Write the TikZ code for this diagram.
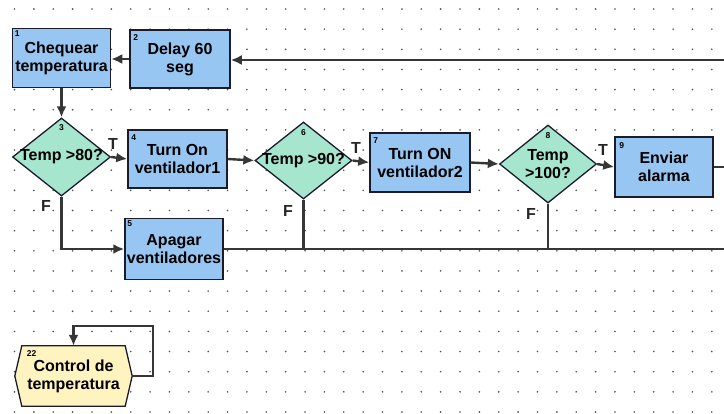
\documentclass[tikz,border=0pt]{standalone}
\usepackage{fontspec}
\setmainfont{Liberation Sans}
\usetikzlibrary{arrows.meta,shapes.geometric,backgrounds}
\definecolor{boxc}{HTML}{98C6F2}
\definecolor{diac}{HTML}{A6E6CE}
\definecolor{hexc}{HTML}{FFF3C0}
\definecolor{linec}{HTML}{363636}
\definecolor{edgec}{HTML}{1A1C2C}
\definecolor{dotc}{HTML}{505050}
\begin{document}
\begin{tikzpicture}[x=1pt,y=-1pt,
  stepbox/.style={rectangle,draw=edgec,line width=1.5pt,fill=boxc,inner sep=0pt,align=center,
    font=\bfseries\fontsize{16}{18}\selectfont},
  decision/.style={diamond,aspect=1.24,draw=edgec,line width=1.3pt,fill=diac,inner sep=0pt,align=center,
    font=\bfseries\fontsize{16}{18}\selectfont},
  hexnode/.style={rectangle,draw=none,inner sep=0pt,align=center,minimum width=117pt,minimum height=60pt,
    font=\bfseries\fontsize{16}{18}\selectfont},
  hexdraw/.style={draw=edgec,line width=1.3pt,fill=hexc},
  numlbl/.style={inner sep=0pt,font=\bfseries\fontsize{8.5}{8.5}\selectfont,text=black},
  tflbl/.style={inner sep=0pt,font=\bfseries\fontsize{16}{16}\selectfont,text=black!85},
  arr/.style={draw=linec,line width=2.4pt,-{Latex[length=11pt,width=10pt]}},
  conn/.style={draw=linec,line width=2.4pt}
]
\useasboundingbox (0,0) rectangle (724,413);
% dot grid
\begin{scope}[on background layer]
\fill[white] (0,0) rectangle (724,413);
\foreach \i in {0,...,36}{
  \foreach \j in {0,...,20}{
    \fill[dotc] ({14.5+19.37*\i},{9+20.15*\j}) circle (0.9pt);
  }
}
\end{scope}

% nodes
\node[stepbox,minimum width=98pt,minimum height=59pt] (b1) at (61.5,58) {Chequear\\temperatura};
\node[stepbox,minimum width=100pt,minimum height=58pt] (b2) at (180,59) {Delay 60\\seg};
\node[decision,minimum width=98pt,minimum height=78pt] (d3) at (61.5,157) {\makebox[0pt]{Temp >80?}};
\node[stepbox,minimum width=99pt,minimum height=58pt] (b4) at (177.5,159) {Turn On\\ventilador1};
\node[stepbox,minimum width=98pt,minimum height=61pt] (b5) at (174,249) {Apagar\\ventiladores};
\node[decision,minimum width=97pt,minimum height=77pt] (d6) at (303.5,160.5) {\makebox[0pt]{Temp >90?}};
\node[stepbox,minimum width=100pt,minimum height=59pt] (b7) at (420,162.5) {Turn ON\\ventilador2};
\node[decision,minimum width=97pt,minimum height=78pt] (d8) at (548,164) {Temp\\>100?};
\node[stepbox,minimum width=98pt,minimum height=60pt] (b9) at (664,167) {Enviar\\alarma};
\node[hexnode] (b22) at (73.5,376) {Control de\\temperatura};
\begin{scope}[on background layer]
\draw[hexdraw] ([xshift=7pt]b22.north west) -- ([xshift=-7pt]b22.north east) -- (b22.east)
  -- ([xshift=-7pt]b22.south east) -- ([xshift=7pt]b22.south west) -- (b22.west) -- cycle;
\end{scope}

% numbers
\node[numlbl,anchor=north west] (n1) at ([shift={(3,3)}]b1.north west) {1};
\node[numlbl,anchor=north west] (n2) at ([shift={(4,5)}]b2.north west) {2};
\node[numlbl] (n3) at ([yshift=-10pt]d3.north) {3};
\node[numlbl,anchor=north west] (n4) at ([shift={(4,5)}]b4.north west) {4};
\node[numlbl,anchor=north west] (n5) at ([shift={(3,3)}]b5.north west) {5};
\node[numlbl] (n6) at ([yshift=-11pt]d6.north) {6};
\node[numlbl,anchor=north west] (n7) at ([shift={(4,5)}]b7.north west) {7};
\node[numlbl] (n8) at ([yshift=-11pt]d8.north) {8};
\node[numlbl,anchor=north west] (n9) at ([shift={(5,6)}]b9.north west) {9};
\node[numlbl,anchor=north west] (n22) at ([shift={(12,5)}]b22.north west) {22};

% T / F labels
\node[tflbl] (t3) at (113,144) {T};
\node[tflbl] (t6) at (356,148) {T};
\node[tflbl] (t8) at (603,150) {T};
\node[tflbl] (f3) at (46,206) {F};
\node[tflbl] (f6) at (288,211) {F};
\node[tflbl] (f8) at (531,214) {F};

% free ends
\coordinate (topin) at (724,60);
\coordinate (out9) at (724,167);
\coordinate (botend) at (724,250);
\coordinate (loopc) at (153,326);

% connectors
\draw[arr] (topin) -- (topin -| b2.east);
\draw[arr] (b2.west) -- (b2.west -| b1.east);
\draw[arr] (b1.south) -- (d3.north);
\draw[arr] (d3.east) -- (b4.west);
\draw[arr] (b4.east) -- (d6.west);
\draw[arr] (d6.east) -- (b7.west);
\draw[arr] (b7.east) -- (d8.west);
\draw[arr] (d8.east) -- (b9.west);
\draw[conn] (b9.east) -- (out9);
\draw[arr] (d3.south) |- (b5.west);
\draw[conn] (b5.east) -- (b5.east -| botend);
\draw[conn] (d6.south) -- (d6.south |- botend);
\draw[conn] (d8.south) -- (d8.south |- botend);
\draw[arr] (b22.east) -| (loopc) -| (b22.north);
\end{tikzpicture}
\end{document}
